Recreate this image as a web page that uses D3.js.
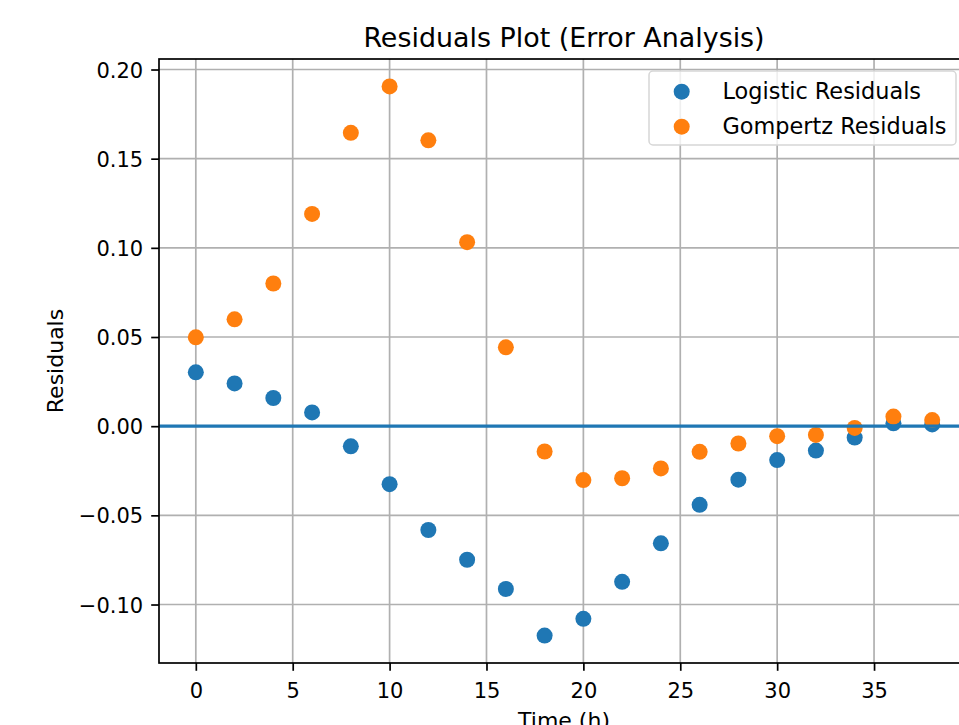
<!DOCTYPE html>
<html>
<head>
<meta charset="utf-8">
<script src="https://cdn.jsdelivr.net/npm/d3@7"></script>
<style>
  body { margin: 0; background: #ffffff; }
  svg { display: block; font-family: "DejaVu Sans", sans-serif; }
</style>
</head>
<body>
<div id="chart"></div>
<script>
// time points (hours)
var times = [0, 2, 4, 6, 8, 10, 12, 14, 16, 18, 20, 22, 24, 26, 28, 30, 32, 34, 36, 38];

// residuals
var logisticResiduals = [0.0302, 0.0240, 0.0158, 0.0077, -0.0113, -0.0325, -0.0582, -0.0749, -0.0913, -0.1174,
  -0.1080, -0.0873, -0.0657, -0.0441, -0.0300, -0.0190, -0.0137, -0.0064, 0.0016, 0.0010];
var gompertzResiduals = [0.0498, 0.0599, 0.0800, 0.1190, 0.1645, 0.1905, 0.1603, 0.1032, 0.0442, -0.0142,
  -0.0302, -0.0292, -0.0237, -0.0144, -0.0097, -0.0056, -0.0049, -0.0010, 0.0054, 0.0034];

var seriesNames = ["Logistic Residuals", "Gompertz Residuals"];
var seriesColors = ["#1f77b4", "#ff7f0e"];
var xTicks = [0, 5, 10, 15, 20, 25, 30, 35];
var yTicks = [-0.10, -0.05, 0.00, 0.05, 0.10, 0.15, 0.20];

var W = 959, H = 725;
var margin = { top: 59, left: 159, right: -10, bottom: 62 };
var width = W - margin.left - margin.right;
var height = H - margin.top - margin.bottom;

var svg = d3.select("#chart").append("svg")
  .attr("width", W)
  .attr("height", H);

// matplotlib style 5% padding around the data
function padded(lo, hi) {
  var pad = (hi - lo) * 0.05;
  return [lo - pad, hi + pad];
}

var allY = logisticResiduals.concat(gompertzResiduals);
var x = d3.scaleLinear()
  .domain(padded(d3.min(times), d3.max(times)))
  .range([margin.left, margin.left + width]);
var y = d3.scaleLinear()
  .domain(padded(d3.min(allY), d3.max(allY)))
  .range([margin.top + height, margin.top]);

// grid
var grid = svg.append("g").attr("class", "grid");
grid.selectAll("line.gx")
  .data(xTicks)
  .enter()
  .append("line")
  .attr("x1", (d) => x(d))
  .attr("x2", (d) => x(d))
  .attr("y1", margin.top)
  .attr("y2", margin.top + height)
  .attr("stroke", "#b0b0b0")
  .attr("stroke-width", 1.7);
grid.selectAll("line.gy")
  .data(yTicks)
  .enter()
  .append("line")
  .attr("x1", margin.left)
  .attr("x2", margin.left + width)
  .attr("y1", (d) => y(d))
  .attr("y2", (d) => y(d))
  .attr("stroke", "#b0b0b0")
  .attr("stroke-width", 1.7);

// points
var series = [logisticResiduals, gompertzResiduals];
series.forEach(function (vals, i) {
  svg.append("g")
    .selectAll("circle")
    .data(times)
    .enter()
    .append("circle")
    .attr("cx", (d) => x(d))
    .attr("cy", (d, j) => y(vals[j]))
    .attr("r", 8)
    .attr("fill", seriesColors[i]);
});

// zero line
svg.append("line")
  .attr("x1", margin.left)
  .attr("x2", margin.left + width)
  .attr("y1", y(0))
  .attr("y2", y(0))
  .attr("stroke", "#1f77b4")
  .attr("stroke-width", 3.2);

// axes
var xAxis = d3.axisBottom(x).tickValues(xTicks).tickSize(7.8).tickPadding(6).tickFormat(d3.format("d"));
var yAxis = d3.axisLeft(y).tickValues(yTicks).tickSize(7.8).tickPadding(8).tickFormat(d3.format(".2f"));

var gx = svg.append("g")
  .attr("transform", "translate(0," + (margin.top + height) + ")")
  .call(xAxis);
var gy = svg.append("g")
  .attr("transform", "translate(" + margin.left + ",0)")
  .call(yAxis);

[gx, gy].forEach(function (g) {
  g.select(".domain").remove();
  g.selectAll(".tick line").attr("stroke", "#000").attr("stroke-width", 1.7);
  g.selectAll(".tick text")
    .attr("fill", "#000")
    .style("font-size", "21px")
    .style("font-family", "'DejaVu Sans'");
});
gx.selectAll(".tick text").attr("dy", null).attr("y", 35);
gy.selectAll(".tick text").attr("dy", "0.36em");

// frame
svg.append("rect")
  .attr("x", margin.left)
  .attr("y", margin.top)
  .attr("width", width)
  .attr("height", height)
  .attr("fill", "none")
  .attr("stroke", "#000")
  .attr("stroke-width", 1.7);

// labels
svg.append("text")
  .attr("x", x.range()[0] + width / 2)
  .attr("y", 46.5)
  .attr("text-anchor", "middle")
  .style("font-size", "26.9px")
  .text("Residuals Plot (Error Analysis)");

svg.append("text")
  .attr("x", x.range()[0] + width / 2)
  .attr("y", 727.5)
  .attr("text-anchor", "middle")
  .style("font-size", "22px")
  .text("Time (h)");

svg.append("text")
  .attr("transform", "translate(63," + (margin.top + height / 2) + ") rotate(-90)")
  .attr("text-anchor", "middle")
  .style("font-size", "22px")
  .text("Residuals");

// legend
var legend = svg.append("g").attr("transform", "translate(649,71)");
legend.append("rect")
  .attr("width", 307)
  .attr("height", 74)
  .attr("rx", 4)
  .attr("fill", "#ffffff")
  .attr("fill-opacity", 0.8)
  .attr("stroke", "#d6d6d6")
  .attr("stroke-width", 1.5);

var item = legend.selectAll("g.item")
  .data(seriesNames)
  .enter()
  .append("g")
  .attr("transform", (d, i) => "translate(0," + (20.7 + i * 35) + ")");
item.append("circle")
  .attr("cx", 32.7)
  .attr("r", 8)
  .attr("fill", (d, i) => seriesColors[i]);
item.append("text")
  .attr("x", 73.5)
  .attr("y", 7.2)
  .style("font-size", "22.4px")
  .text((d) => d);
</script>
</body>
</html>
